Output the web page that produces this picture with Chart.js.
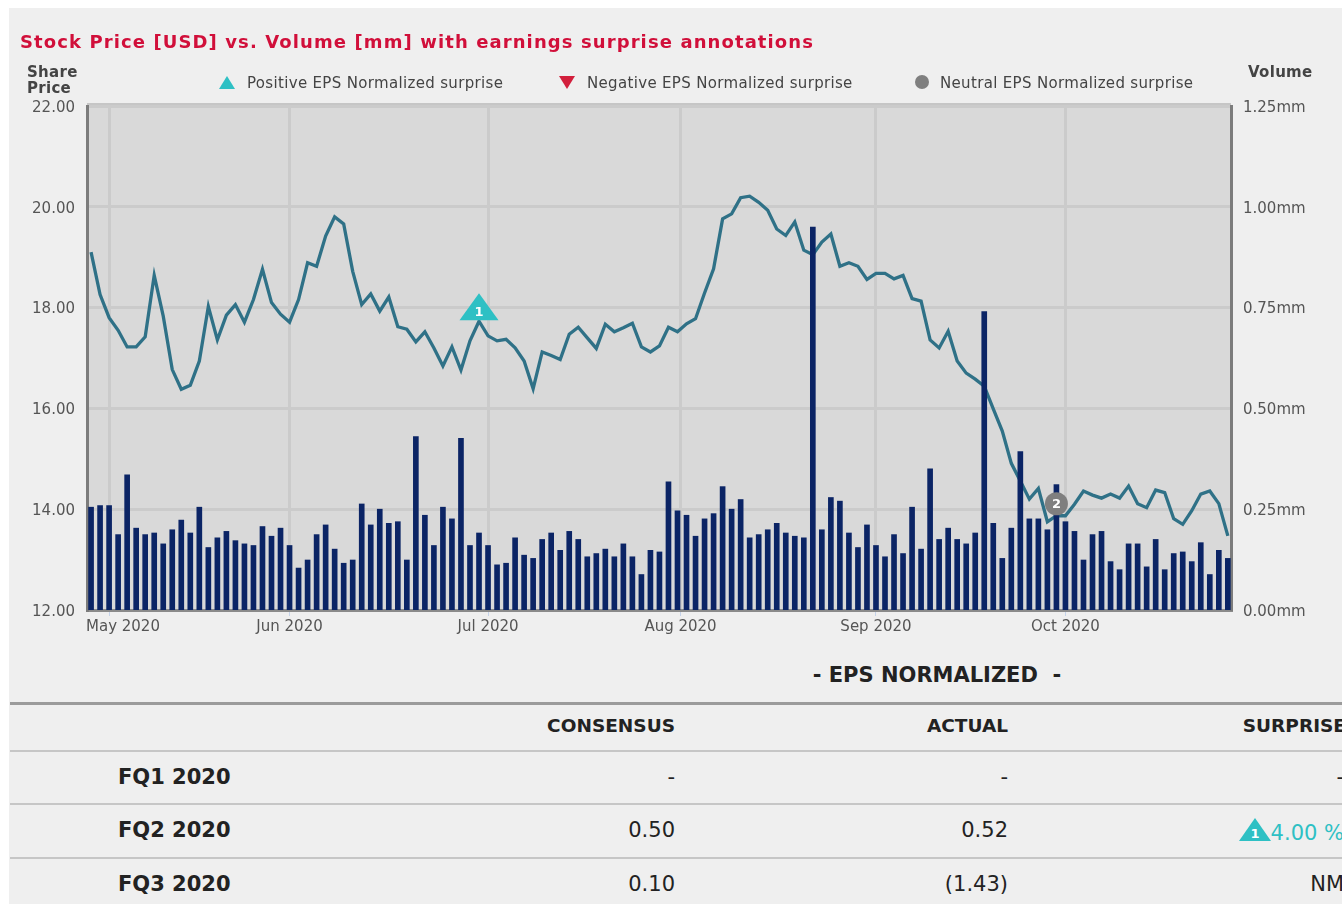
<!DOCTYPE html>
<html>
<head>
<meta charset="utf-8">
<script src="https://cdn.jsdelivr.net/npm/chart.js@4/dist/chart.umd.min.js"></script>
<style>
  html, body { margin: 0; padding: 0; background: #ffffff; overflow: hidden; }
  body { width: 1342px; height: 904px; position: relative; font-family: "DejaVu Sans", Verdana, sans-serif; }
  #panel { position: absolute; left: 9px; top: 8px; width: 1340px; height: 900px; background: #efefef; }
  #chart { position: absolute; left: 0; top: 0; }
  .abs { position: absolute; white-space: nowrap; }
  .title { left: 20px; top: 31px; font-size: 18px; letter-spacing: 1.1px; font-weight: bold; color: #d10f3a; }
  .axis-title { font-size: 15px; font-weight: bold; color: #444; line-height: 16px; letter-spacing: 0.3px; }
  .legend { top: 74px; font-size: 15px; letter-spacing: 0.33px; color: #444; }
  .eps-head { left: 737px; width: 400px; top: 663px; text-align: center; font-size: 21px; font-weight: bold; color: #222; }
  .hline { position: absolute; left: 10px; width: 1340px; }
  .th { font-size: 18.5px; font-weight: bold; color: #222; text-align: right; }
  .td { font-size: 21px; color: #222; text-align: right; }
  .rowlab { font-size: 21px; font-weight: bold; color: #222; left: 118px; }
</style>
</head>
<body>
<div id="panel"></div>
<canvas id="chart" width="1342" height="640"></canvas>
<div id="overlay"></div>
<script>
// trading days shown on the chart (Apr 29 - Oct 27 2020)
const tradingDays = {
  '2020-04': [29, 30],
  '2020-05': [1, 4, 5, 6, 7, 8, 11, 12, 13, 14, 15, 18, 19, 20, 21, 22, 26, 27, 28, 29],
  '2020-06': [1, 2, 3, 4, 5, 8, 9, 10, 11, 12, 15, 16, 17, 18, 19, 22, 23, 24, 25, 26, 29, 30],
  '2020-07': [1, 2, 6, 7, 8, 9, 10, 13, 14, 15, 16, 17, 20, 21, 22, 23, 24, 27, 28, 29, 30, 31],
  '2020-08': [3, 4, 5, 6, 7, 10, 11, 12, 13, 14, 17, 18, 19, 20, 21, 24, 25, 26, 27, 28, 31],
  '2020-09': [1, 2, 3, 4, 8, 9, 10, 11, 14, 15, 16, 17, 18, 21, 22, 23, 24, 25, 28, 29, 30],
  '2020-10': [1, 2, 5, 6, 7, 8, 9, 12, 13, 14, 15, 16, 19, 20, 21, 22, 23, 26, 27]
};

const sharePrice = [
  19.10, 18.26, 17.80, 17.55, 17.22, 17.22, 17.42, 18.64, 17.83, 16.77, 16.38, 16.46, 16.94, 18.02, 17.36, 17.85,
  18.06, 17.71, 18.16, 18.76, 18.10, 17.87, 17.71, 18.16, 18.89, 18.82, 19.42, 19.80, 19.66, 18.72, 18.06, 18.27, 17.93,
  18.21, 17.62, 17.57, 17.32, 17.52, 17.20, 16.84, 17.22, 16.76, 17.34, 17.73, 17.44, 17.34, 17.37, 17.20, 16.94,
  16.39, 17.12, 17.05, 16.97, 17.47, 17.61, 17.40, 17.19, 17.67, 17.52, 17.60, 17.69, 17.22, 17.12, 17.24,
  17.61, 17.52, 17.68, 17.78, 18.29, 18.77, 19.76, 19.86, 20.18, 20.21, 20.09, 19.93, 19.56, 19.43, 19.70, 19.14,
  19.05, 19.30, 19.46, 18.82, 18.89, 18.82, 18.56, 18.68, 18.68, 18.57, 18.64, 18.18, 18.13, 17.36, 17.20, 17.53,
  16.94, 16.70, 16.58, 16.44, 15.99, 15.55, 14.91, 14.56, 14.20, 14.41, 13.75, 13.87, 13.87, 14.10, 14.36, 14.28,
  14.22, 14.30, 14.22, 14.46, 14.11, 14.03, 14.38, 14.33, 13.81, 13.70, 13.97, 14.30, 14.36, 14.11, 13.47
];

const volume = [
  0.255, 0.259, 0.259, 0.187, 0.335, 0.203, 0.187, 0.191, 0.164, 0.199, 0.223, 0.191, 0.255, 0.155, 0.179, 0.195,
  0.172, 0.164, 0.160, 0.207, 0.183, 0.203, 0.160, 0.104, 0.124, 0.187, 0.211, 0.151, 0.116, 0.124, 0.263, 0.211, 0.250,
  0.215, 0.219, 0.124, 0.430, 0.235, 0.160, 0.255, 0.226, 0.426, 0.160, 0.191, 0.160, 0.112, 0.116, 0.179, 0.136,
  0.128, 0.175, 0.191, 0.148, 0.195, 0.175, 0.132, 0.140, 0.151, 0.132, 0.164, 0.132, 0.088, 0.148, 0.144,
  0.318, 0.246, 0.235, 0.183, 0.226, 0.239, 0.306, 0.250, 0.274, 0.179, 0.187, 0.199, 0.215, 0.191, 0.183, 0.179,
  0.950, 0.199, 0.279, 0.270, 0.191, 0.155, 0.211, 0.160, 0.132, 0.187, 0.140, 0.255, 0.151, 0.350, 0.175, 0.203,
  0.175, 0.164, 0.191, 0.740, 0.215, 0.128, 0.203, 0.393, 0.226, 0.226, 0.199, 0.311, 0.219, 0.195, 0.124, 0.187,
  0.195, 0.120, 0.100, 0.164, 0.164, 0.107, 0.175, 0.100, 0.140, 0.144, 0.120, 0.167, 0.088, 0.148, 0.128
];

const monthStarts = ['2020-05-01', '2020-06-01', '2020-07-01', '2020-08-01', '2020-09-01', '2020-10-01'];
const monthLabels = ['May 2020', 'Jun 2020', 'Jul 2020', 'Aug 2020', 'Sep 2020', 'Oct 2020'];
const priceTicks = [12, 14, 16, 18, 20, 22];
const volumeTicks = [0, 0.25, 0.5, 0.75, 1.0, 1.25];

// earnings surprise flags on the price line
const surpriseFlags = [
  { date: '2020-06-30', label: '1', kind: 'positive' },
  { date: '2020-09-30', label: '2', kind: 'neutral' }
];

// EPS table
const quarters = ['FQ1 2020', 'FQ2 2020', 'FQ3 2020'];
const consensus = ['-', '0.50', '0.10'];
const actual = ['-', '0.52', '(1.43)'];
const surprise = ['-', '4.00 %', 'NM'];
const surpriseMark = [null, '1', null];

const colors = {
  line: '#2f7187', bar: '#0b2465', pos: '#2ec0c4', neg: '#d21f3c', neu: '#7f7f7f',
  plot: '#d9d9d9', grid: '#cbcbcb', axis: '#7c7c7c', text: '#555555'
};

// ---- build the date list / x positions
const dates = [];
Object.keys(tradingDays).forEach(function(m) {
  tradingDays[m].forEach(function(d) { dates.push(m + '-' + String(d).padStart(2, '0')); });
});
function dateIndex(s) {
  const t = Date.parse(s);
  for (let j = 0; j < dates.length; j++) {
    const tj = Date.parse(dates[j]);
    if (tj === t) return j;
    if (tj > t) {
      const tp = Date.parse(dates[j - 1]);
      return j - 1 + (t - tp) / (tj - tp);
    }
  }
  return dates.length - 1;
}
const monthPos = monthStarts.map(dateIndex);

const priceData = sharePrice.map((v, i) => ({ x: i, y: v }));
const volData = volume.map((v, i) => ({ x: i, y: v }));

const fontFamily = '"DejaVu Sans", Verdana, sans-serif';

const plotBg = {
  id: 'plotBg',
  beforeDraw(chart) {
    const a = chart.chartArea, ctx = chart.ctx;
    ctx.save();
    ctx.fillStyle = colors.plot;
    ctx.fillRect(a.left, a.top, a.right - a.left, a.bottom - a.top);
    ctx.strokeStyle = '#c6c6c6';
    ctx.lineWidth = 3;
    ctx.beginPath();
    ctx.moveTo(a.left, a.top - 1.5);
    ctx.lineTo(a.right, a.top - 1.5);
    ctx.stroke();
    ctx.restore();
  }
};

const monthLabelPlugin = {
  id: 'monthLabels',
  afterDraw(chart) {
    const x = chart.scales.x, a = chart.chartArea, ctx = chart.ctx;
    ctx.save();
    ctx.font = '15px ' + fontFamily;
    ctx.fillStyle = colors.text;
    ctx.textBaseline = 'middle';
    monthPos.forEach(function(p, k) {
      const w = ctx.measureText(monthLabels[k]).width;
      let left = x.getPixelForValue(p) - w / 2;
      if (left < a.left - 1) left = a.left - 1;
      ctx.fillText(monthLabels[k], left, a.bottom + 17);
    });
    ctx.restore();
  }
};

const flagPlugin = {
  id: 'flags',
  afterDatasetsDraw(chart) {
    const x = chart.scales.x, y = chart.scales.y, ctx = chart.ctx;
    ctx.save();
    surpriseFlags.forEach(function(f) {
      const i = Math.round(dateIndex(f.date));
      const px = x.getPixelForValue(i), py = y.getPixelForValue(sharePrice[i]);
      let cy;
      if (f.kind === 'neutral') {
        cy = py - 12;
        ctx.fillStyle = colors.neu;
        ctx.beginPath();
        ctx.arc(px, cy, 11.5, 0, Math.PI * 2);
        ctx.fill();
      } else {
        const up = f.kind === 'positive';
        ctx.fillStyle = up ? colors.pos : colors.neg;
        ctx.beginPath();
        if (up) {
          ctx.moveTo(px, py - 28); ctx.lineTo(px + 19.5, py - 1); ctx.lineTo(px - 19.5, py - 1);
          cy = py - 10;
        } else {
          ctx.moveTo(px, py + 28); ctx.lineTo(px + 19.5, py + 1); ctx.lineTo(px - 19.5, py + 1);
          cy = py + 10;
        }
        ctx.closePath();
        ctx.fill();
      }
      ctx.fillStyle = '#ffffff';
      ctx.font = 'bold 13px ' + fontFamily;
      ctx.textAlign = 'center';
      ctx.textBaseline = 'middle';
      ctx.fillText(f.label, px, cy + 1);
    });
    ctx.restore();
  }
};

new Chart(document.getElementById('chart').getContext('2d'), {
  type: 'bar',
  data: {
    datasets: [
      {
        type: 'bar',
        label: 'Volume',
        data: volData,
        yAxisID: 'y1',
        backgroundColor: colors.bar,
        barThickness: 5,
        order: 0
      },
      {
        type: 'line',
        label: 'Share Price',
        data: priceData,
        yAxisID: 'y',
        borderColor: colors.line,
        borderWidth: 3.3,
        pointRadius: 0,
        tension: 0,
        order: 1
      }
    ]
  },
  options: {
    responsive: false,
    animation: false,
    devicePixelRatio: 1,
    layout: { padding: { top: 106, left: 0, right: 0, bottom: 0 } },
    plugins: { legend: { display: false }, tooltip: { enabled: false } },
    scales: {
      x: {
        type: 'linear',
        offset: false,
        min: -0.45,
        max: dates.length - 1 + 0.35,
        afterBuildTicks: function(scale) { scale.ticks = monthPos.map(v => ({ value: v })); },
        afterFit: function(scale) { scale.height = 30; },
        ticks: { display: false },
        grid: { offset: false, color: colors.grid, lineWidth: 3, drawTicks: true, tickLength: 6, tickColor: '#c5d3ea', tickWidth: 1 },
        border: { color: '#8a8a8a', width: 3 }
      },
      y: {
        position: 'left',
        min: 12,
        max: 22,
        afterBuildTicks: function(scale) { scale.ticks = priceTicks.map(v => ({ value: v })); },
        afterFit: function(scale) { scale.width = 87; },
        ticks: {
          padding: 12,
          labelOffset: 2,
          color: colors.text,
          font: { family: fontFamily, size: 15 },
          callback: v => v.toFixed(2)
        },
        grid: { color: colors.grid, lineWidth: 3, drawTicks: false },
        border: { color: colors.axis, width: 3 }
      },
      y1: {
        position: 'right',
        min: 0,
        max: 1.25,
        afterBuildTicks: function(scale) { scale.ticks = volumeTicks.map(v => ({ value: v })); },
        afterFit: function(scale) { scale.width = 111; },
        ticks: {
          padding: 12,
          labelOffset: 2,
          color: colors.text,
          font: { family: fontFamily, size: 15 },
          callback: v => v.toFixed(2) + 'mm'
        },
        grid: { display: false, drawTicks: false },
        border: { color: colors.axis, width: 3 }
      }
    }
  },
  plugins: [plotBg, monthLabelPlugin, flagPlugin]
});

// ---- header texts, legend and the EPS table
function triSvg(color, down) {
  const pts = down ? '0,0 16,0 8,13' : '8,0 16,13 0,13';
  return '<svg width="16" height="13" style="vertical-align:-1px;margin-right:8px"><polygon points="' + pts + '" fill="' + color + '"/></svg>';
}
let html = '';
html += '<div class="abs title">Stock Price [USD] vs. Volume [mm] with earnings surprise annotations</div>';
html += '<div class="abs axis-title" style="left:27px;top:64px">Share<br>Price</div>';
html += '<div class="abs axis-title" style="left:1248px;top:64px">Volume</div>';
html += '<div class="abs legend" style="left:219px">' + triSvg(colors.pos, false) + '<span style="margin-left:4px">Positive EPS Normalized surprise</span></div>';
html += '<div class="abs legend" style="left:559px">' + triSvg(colors.neg, true) + '<span style="margin-left:4px">Negative EPS Normalized surprise</span></div>';
html += '<div class="abs legend" style="left:915px"><svg width="14" height="14" style="vertical-align:-1px;margin-right:11px"><circle cx="7" cy="7" r="7" fill="' + colors.neu + '"/></svg>Neutral EPS Normalized surprise</div>';

html += '<div class="abs eps-head">-&nbsp;EPS NORMALIZED&nbsp;&nbsp;-</div>';
html += '<div class="hline" style="top:702px;height:3px;background:#9b9b9b"></div>';
html += '<div class="abs th" style="right:667px;top:715px">CONSENSUS</div>';
html += '<div class="abs th" style="right:334px;top:715px">ACTUAL</div>';
html += '<div class="abs th" style="right:-4px;top:715px">SURPRISE</div>';
const rowTop = [750, 803, 857];
quarters.forEach(function(q, r) {
  const t = rowTop[r];
  html += '<div class="hline" style="top:' + t + 'px;height:2px;background:#c6c6c6"></div>';
  const ty = t + 15;
  html += '<div class="abs rowlab" style="top:' + ty + 'px">' + q + '</div>';
  html += '<div class="abs td" style="right:667px;top:' + ty + 'px">' + consensus[r] + '</div>';
  html += '<div class="abs td" style="right:334px;top:' + ty + 'px">' + actual[r] + '</div>';
  let s = surprise[r];
  let style = '';
  if (surpriseMark[r]) {
    style = 'color:' + colors.pos + ';';
    s = '<svg width="32" height="24" style="vertical-align:-2px"><polygon points="16,0 32,23 0,23" fill="' + colors.pos + '"/>' +
        '<text x="16" y="20" fill="#fff" font-size="13" font-weight="bold" text-anchor="middle" font-family="DejaVu Sans">' + surpriseMark[r] + '</text></svg>' + s;
  }
  html += '<div class="abs td" style="right:-2px;top:' + ty + 'px;' + style + '">' + s + '</div>';
});
document.getElementById('overlay').innerHTML = html;
</script>
</body>
</html>
